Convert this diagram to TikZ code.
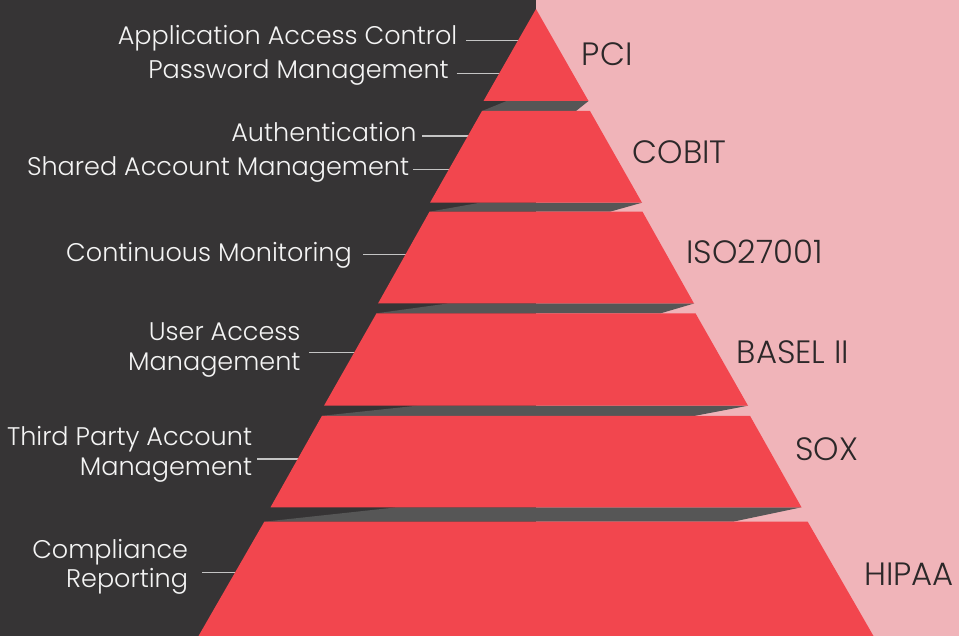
\documentclass[tikz,border=0pt]{standalone}
\usepackage{fontspec}
\setmainfont{Poppins}[UprightFont=* Light]
\definecolor{bgdark}{HTML}{363435}
\definecolor{bgpink}{HTML}{F0B4B9}
\definecolor{tierred}{HTML}{F2464E}
\definecolor{bandgray}{HTML}{565656}
\definecolor{leadgray}{HTML}{C4C4C4}
\definecolor{lefttext}{HTML}{F4F4F4}
\definecolor{righttext}{HTML}{2C2829}
\begin{document}
\begin{tikzpicture}[x=1pt,y=-1pt,
  tier/.style={fill=tierred},
  band/.style={fill=bandgray},
  leader/.style={draw=leadgray,line width=1.3pt},
  ltext/.style={anchor=base east,inner sep=0pt,text=lefttext,font=\fontsize{25.5}{30}\selectfont},
  rtext/.style={anchor=base west,inner sep=0pt,text=righttext,font=\fontsize{32.3}{36}\selectfont}]
\useasboundingbox (0,0) rectangle (959,636);
\fill[bgdark] (0,0) rectangle (536,636);
\fill[bgpink] (536,0) rectangle (959,636);

% left labels
\node[ltext] (aac) at (457.5,45) {Application Access Control};
\node[ltext] (pm) at (449,78.3) {Password Management};
\node[ltext] (auth) at (416.7,141.7) {Authentication};
\node[ltext] (sam) at (409.3,176) {Shared Account Management};
\node[ltext] (cm) at (352,262) {Continuous Monitoring};
\node[ltext] (uama) at (300.7,340.7) {User Access};
\node[ltext] (uamb) at (300.7,370.7) {Management};
\node[ltext] (tpaa) at (252.3,445) {Third Party Account};
\node[ltext] (tpab) at (252.3,475) {Management};
\node[ltext] (cra) at (188.3,558.3) {Compliance};
\node[ltext] (crb) at (188.3,587.3) {Reporting};

% leader line coordinates
\coordinate (s1) at (466,40.7);   \coordinate (e1) at (520,40.7);
\coordinate (s2) at (456.7,73.3); \coordinate (e2) at (501,73.3);
\coordinate (s3) at (422,136);    \coordinate (e3) at (470,136);
\coordinate (s4) at (413.3,169.3);\coordinate (e4) at (451,169.3);
\coordinate (s5) at (363.3,254.3);\coordinate (e5) at (408,254.3);
\coordinate (s6) at (309.3,352.3);\coordinate (e6) at (357,352.3);
\coordinate (s7) at (257.3,459);  \coordinate (e7) at (300,459);
\coordinate (s8) at (202.3,572.7);\coordinate (e8) at (237,572.7);
\foreach \i in {1,...,8} {\draw[leader] (s\i) -- (e\i);}

% gray bands
\fill[band] (506.6,101) -- (588.5,101) -- (576,111) -- (482,111) -- cycle;
\fill[band] (480,202.7) -- (642,202.7) -- (610,211.7) -- (429.5,211.7) -- cycle;
\fill[band] (447.5,303.5) -- (694,303.5) -- (660.7,313.3) -- (376.5,313.3) -- cycle;
\fill[band] (417,405.7) -- (748,405.7) -- (695,415.8) -- (322,415.8) -- cycle;
\fill[band] (397,507.3) -- (801.5,507.3) -- (733,521.7) -- (264.3,521.7) -- cycle;

% tiers
\fill[tier] (536,9) -- (588.5,101) -- (483.5,101) -- cycle;
\fill[tier] (482,111) -- (590,111) -- (642,202.7) -- (430,202.7) -- cycle;
\fill[tier] (429.5,211.7) -- (642.5,211.7) -- (694,303.5) -- (378,303.5) -- cycle;
\fill[tier] (376.5,313.3) -- (695.5,313.3) -- (748,405.7) -- (324,405.7) -- cycle;
\fill[tier] (322,415.8) -- (750,415.8) -- (801.5,507.3) -- (270.5,507.3) -- cycle;
\fill[tier] (264.3,521.7) -- (807.7,521.7) -- (873.5,636) -- (198.5,636) -- cycle;

% right labels
\node[rtext] (pci) at (581.7,65.7) {PCI};
\node[rtext] (cobit) at (632.7,163.3) {COBIT};
\node[rtext] (iso) at (686,263.3) {ISO27001};
\node[rtext] (basel) at (736.7,363.3) {BASEL II};
\node[rtext] (sox) at (795,460.7) {SOX};
\node[rtext] (hipaa) at (864,585) {HIPAA};
\end{tikzpicture}
\end{document}
